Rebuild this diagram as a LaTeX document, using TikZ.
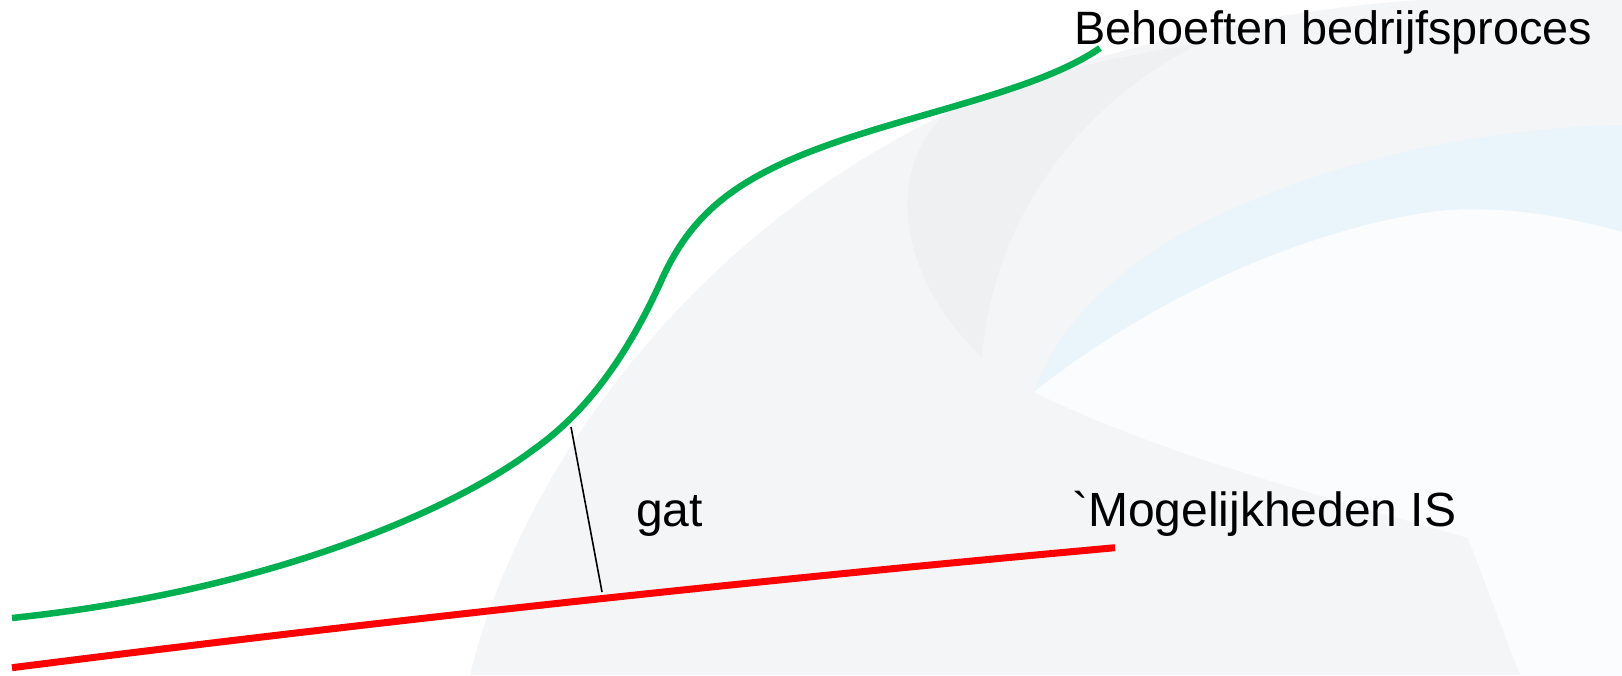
\documentclass[tikz,border=0pt]{standalone}
\usepackage{fontspec}
\setmainfont{Liberation Sans}
\newfontfamily\labelfont{Liberation Sans}[Ligatures=TeXOff]
\begin{document}
\begin{tikzpicture}[x=1pt,y=-1pt,
  label/.style={inner sep=0pt,anchor=base west,font=\labelfont\fontsize{48}{57}\selectfont},
  toplabel/.style={label,font=\labelfont\fontsize{46.8}{56}\selectfont},
  needline/.style={draw={rgb,255:red,0;green,176;blue,80},line width=6.5pt},
  capline/.style={draw={rgb,255:red,255;green,0;blue,0},line width=7pt},
  gapline/.style={draw=black,line width=1.6pt}]
\definecolor{swoosh}{RGB}{244,245,247}
\definecolor{fin}{RGB}{239,240,242}
\definecolor{band}{RGB}{234,244,251}
\definecolor{pane}{RGB}{251,252,253}
\useasboundingbox (0,0) rectangle (1622,675);
\fill[white] (0,0) rectangle (1622,675);

% soft background ornament
\fill[swoosh] (470,675) .. controls (520,470) and (700,210) .. (1000,90)
  .. controls (1150,35) and (1300,8) .. (1420,0) -- (1622,0) -- (1622,675) -- cycle;
\fill[fin] (951,108) .. controls (880,170) and (900,280) .. (982,357)
  .. controls (990,250) and (1050,120) .. (1200,43)
  .. controls (1100,60) and (1010,80) .. cycle;
\fill[band] (1034,392) .. controls (1060,320) and (1120,270) .. (1180,235)
  .. controls (1300,170) and (1450,130) .. (1622,125) -- (1622,232)
  .. controls (1550,215) and (1480,205) .. (1437,211)
  .. controls (1300,230) and (1150,300) .. cycle;
\fill[pane] (1034,392) .. controls (1150,300) and (1300,230) .. (1437,211)
  .. controls (1500,205) and (1560,215) .. (1622,232) -- (1622,675) -- (1520,675)
  -- (1468,538) .. controls (1300,490) and (1150,450) .. cycle;

% curves
\coordinate (g0) at (12,618);
\coordinate (g1) at (1100,48);
\coordinate (r0) at (12,667.7);
\coordinate (r1) at (1115,547.7);
\coordinate (gapTop) at (571,427);
\coordinate (gapBot) at (602,592);

\draw[needline] (g0) .. controls (280,590) and (460,505) .. (533,450)
  .. controls (590,410) and (630,350) .. (662,279)
  .. controls (690,218) and (730,180) .. (828,145)
  .. controls (920,112) and (1040,90) .. (g1);
\draw[capline] (r0) .. controls (380,621) and (748,581) .. (r1);
\draw[gapline] (gapTop) -- (gapBot);

% labels
\node[toplabel] (need) at (1074.5,44.5) {Behoeften bedrijfsproces};
\node[label] (cap) at (1072,526.7) {`Mogelijkheden IS};
\node[label] (gap) at (636,526.7) {gat};
\end{tikzpicture}
\end{document}
